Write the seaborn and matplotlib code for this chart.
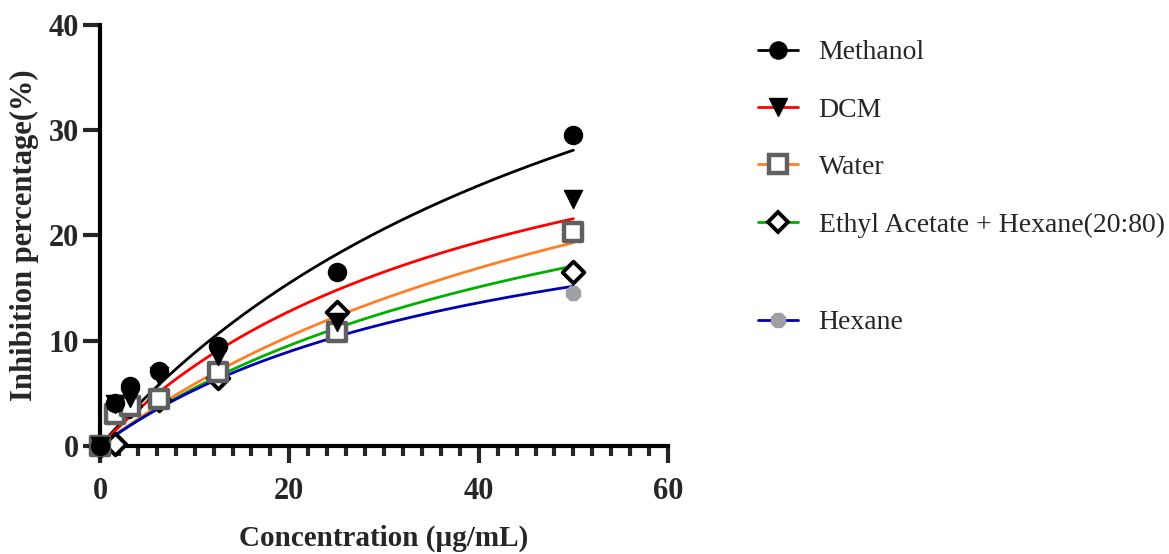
import numpy as np
import pandas as pd
import matplotlib
matplotlib.use("Agg")
import matplotlib.pyplot as plt
import seaborn as sns
from matplotlib.lines import Line2D
from matplotlib.ticker import MultipleLocator

sns.set_style("white")
plt.rcParams['font.family'] = ['Liberation Serif', 'DejaVu Serif']

conc = [0, 1.5625, 3.125, 6.25, 12.5, 25, 50]
methanol = [0.0, 4.1, 5.7, 7.1, 9.5, 16.5, 29.5]
dcm = [0.0, 4.0, 4.6, 6.6, 8.5, 11.8, 23.5]
water = [0.0, 3.0, 3.8, 4.5, 7.0, 10.8, 20.3]
ethyl = [0.0, 0.2, 3.8, 4.4, 6.5, 12.7, 16.5]
hexane = [0.0, 0.3, 3.7, 4.5, 6.8, 11.2, 14.5]

series_names = ["Methanol", "DCM", "Water", "Ethyl Acetate + Hexane(20:80)", "Hexane"]
series_values = [methanol, dcm, water, ethyl, hexane]
# fitted hyperbola parameters: Bmax, K
fit_bmax = [61.6, 39.9, 44.8, 36.1, 28.2]
fit_k = [59.6, 42.4, 66.0, 55.6, 42.9]

line_colors = ["#000000", "#ff0000", "#ff7f27", "#00b000", "#0000b0"]
markers = ["o", "v", "s", "D", "8"]
m_face = ["#000000", "#000000", "#ffffff", "#ffffff", "#a0a0a4"]
m_edge = ["#000000", "#000000", "#606060", "#000000", "#a0a0a4"]
m_size = [13, 13, 13, 11, 11]
m_ew = [1, 1, 3.2, 2.8, 1]
draw_order = [4, 3, 2, 1, 0]

fig = plt.figure(figsize=(11.69, 5.54), dpi=100)
ax = fig.add_axes([0.0855, 0.195, 0.486, 0.76])

# curves
xs = np.linspace(0.0, 50, 200)
for i, name in enumerate(series_names):
    dfc = pd.DataFrame({"x": xs, "y": fit_bmax[i] * xs / (fit_k[i] + xs)})
    sns.lineplot(data=dfc, x="x", y="y", ax=ax, color=line_colors[i], lw=2, zorder=2)

# points
for z, i in enumerate(draw_order):
    dfp = pd.DataFrame({"x": conc, "y": series_values[i]})
    sns.scatterplot(data=dfp, x="x", y="y", ax=ax, marker=markers[i],
                    s=m_size[i] ** 2, color=m_face[i], edgecolor=m_edge[i],
                    linewidth=m_ew[i], zorder=3 + z, clip_on=False)

ax.set_xlim(0, 60)
ax.set_ylim(0, 40)
ax.xaxis.set_major_locator(MultipleLocator(20))
ax.xaxis.set_minor_locator(MultipleLocator(2))
ax.yaxis.set_major_locator(MultipleLocator(10))
for s in ["top", "right"]:
    ax.spines[s].set_visible(False)
for s in ["left", "bottom"]:
    ax.spines[s].set_linewidth(3)
    ax.spines[s].set_color("black")
ax.tick_params(axis="both", which="major", direction="out", length=12, width=3,
               labelsize=22, bottom=True, left=True)
ax.tick_params(axis="x", which="major", pad=10)
ax.tick_params(axis="y", which="major", pad=3)
ax.tick_params(axis="x", which="minor", direction="out", length=7, width=3, bottom=True)
for lab in ax.get_xticklabels() + ax.get_yticklabels():
    lab.set_fontweight("bold")
ax.set_xlabel("Concentration (µg/mL)", fontsize=21, fontweight="bold", labelpad=14)
ax.set_ylabel("Inhibition percentage(%)", fontsize=22, fontweight="bold", labelpad=7)

handles = []
for i, name in enumerate(series_names):
    handles.append(Line2D([], [], color=line_colors[i], lw=2, marker=markers[i],
                          markersize=m_size[i] * 0.95, markerfacecolor=m_face[i],
                          markeredgecolor=m_edge[i], markeredgewidth=m_ew[i]))
leg_kw = dict(frameon=False, fontsize=20, handlelength=1.45, handletextpad=0.75,
              labelspacing=1.15, borderaxespad=0, borderpad=0)
top = 0.955 - 15 / 554
leg1 = fig.legend(handles[:4], series_names[:4], loc="upper left",
                  bbox_to_anchor=(0.648, top), **leg_kw)
leg2 = fig.legend(handles[4:], series_names[4:], loc="upper left",
                  bbox_to_anchor=(0.648, top - 270 / 554), **leg_kw)

fig.savefig("out.png", dpi=100)
